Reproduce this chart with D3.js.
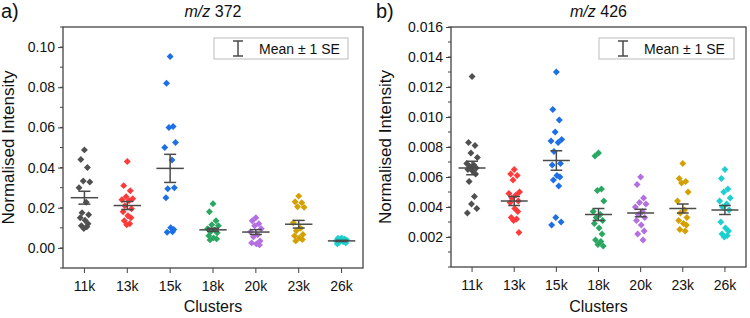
<!DOCTYPE html>
<html>
<head>
<meta charset="utf-8">
<script src="https://cdn.jsdelivr.net/npm/d3@7"></script>
<style>
  body { margin: 0; background: #fff; }
  svg { font-family: "Liberation Sans", Arial, sans-serif; }
</style>
</head>
<body>
<div id="chart"></div>
<script>
// categories and colours
var categories = ["11k", "13k", "15k", "18k", "20k", "23k", "26k"];
var colors = ["#505050", "#ff3a3a", "#1c6fe6", "#2aa862", "#b46fe2", "#d4a000", "#1dcfcf"];

// m/z 372 values
var valsA = [
    [0.0488, 0.0440, 0.0400, 0.0333, 0.0328, 0.0300, 0.0227, 0.0175, 0.0165, 0.0150, 0.0138, 0.0120, 0.0110, 0.0105, 0.0097],
    [0.0430, 0.0310, 0.0285, 0.0255, 0.0245, 0.0240, 0.0235, 0.0210, 0.0195, 0.0180, 0.0160, 0.0150, 0.0135, 0.0120, 0.0115],
    [0.0953, 0.0820, 0.0605, 0.0600, 0.0525, 0.0500, 0.0438, 0.0295, 0.0300, 0.0250, 0.0100, 0.0092, 0.0078, 0.0080],
    [0.0220, 0.0180, 0.0135, 0.0115, 0.0110, 0.0095, 0.0090, 0.0080, 0.0075, 0.0060, 0.0050, 0.0045, 0.0040],
    [0.0150, 0.0135, 0.0120, 0.0110, 0.0095, 0.0080, 0.0065, 0.0055, 0.0035, 0.0025, 0.0020, 0.0015],
    [0.0258, 0.0230, 0.0225, 0.0205, 0.0202, 0.0125, 0.0098, 0.0085, 0.0067, 0.0060, 0.0050, 0.0042, 0.0035],
    [0.0050, 0.0048, 0.0045, 0.0040, 0.0038, 0.0035, 0.0030, 0.0028, 0.0025, 0.0020]
];
var meanA = [0.0250, 0.0211, 0.0396, 0.0090, 0.0079, 0.0118, 0.0035];
var seA = [0.0032, 0.0020, 0.0070, 0.0008, 0.0012, 0.0019, 0.0003];
var ticksA = [0.00, 0.02, 0.04, 0.06, 0.08, 0.10];

// m/z 426 values
var valsB = [
    [0.0127, 0.0083, 0.0081, 0.0076, 0.0073, 0.0069, 0.0068, 0.0067, 0.0066, 0.0065, 0.0064, 0.0062, 0.0057, 0.0047, 0.0042, 0.0039, 0.0036],
    [0.0065, 0.0062, 0.0061, 0.0058, 0.0050, 0.0049, 0.0048, 0.0046, 0.0044, 0.0043, 0.0039, 0.0037, 0.0033, 0.0032, 0.0031, 0.0023],
    [0.0130, 0.0105, 0.0098, 0.0090, 0.0085, 0.0084, 0.0083, 0.0077, 0.0069, 0.0068, 0.0061, 0.0060, 0.0058, 0.0054, 0.0033, 0.0030, 0.0028],
    [0.0076, 0.0074, 0.0052, 0.0051, 0.0044, 0.0037, 0.0035, 0.0033, 0.0031, 0.0029, 0.0026, 0.0022, 0.0018, 0.0017, 0.0015, 0.0014],
    [0.0060, 0.0055, 0.0046, 0.0043, 0.0042, 0.0040, 0.0037, 0.0035, 0.0033, 0.0031, 0.0028, 0.0024, 0.0022, 0.0018],
    [0.0069, 0.0059, 0.0057, 0.0056, 0.0050, 0.0044, 0.0038, 0.0036, 0.0033, 0.0031, 0.0029, 0.0028, 0.0025, 0.0024],
    [0.0065, 0.0059, 0.0052, 0.0050, 0.0046, 0.0044, 0.0042, 0.0040, 0.0038, 0.0030, 0.0026, 0.0024, 0.0022, 0.0021, 0.0020]
];
var meanB = [0.0066, 0.0044, 0.0071, 0.0035, 0.0036, 0.0039, 0.0038];
var seB = [0.00045, 0.0003, 0.00065, 0.0004, 0.00025, 0.0003, 0.0003];
var ticksB = [0.002, 0.004, 0.006, 0.008, 0.010, 0.012, 0.014, 0.016];

// fixed scatter pattern used to spread points sideways
var spread = [0, -0.6, 0.5, -0.2, 0.9, -0.9, 0.3, -0.4, 0.7, -0.7, 0.1, 0.6, -0.5, 0.4, -0.1, 0.8, -0.8];

var svg = d3.select("#chart").append("svg")
    .attr("width", 750)
    .attr("height", 318);

function drawPanel(p) {
    var x = d3.scaleBand().domain(categories).range([p.left, p.right]);
    var y = d3.scaleLinear().domain(p.domain).range([p.bottom, p.top]);
    var step = x.step();
    var cx = function(c) { return x(c) + step / 2; };

    var g = svg.append("g");

    // minor ticks
    var minors = d3.range(p.domain[0], p.domain[1] + 1e-9, p.minor);
    g.selectAll(".minor").data(minors).enter().append("line")
        .attr("x1", p.left - 3).attr("x2", p.left)
        .attr("y1", d => y(d)).attr("y2", d => y(d))
        .attr("stroke", "#444").attr("stroke-width", 1);

    // y axis
    var yAxis = d3.axisLeft(y).tickValues(p.ticks).tickFormat(d3.format(p.fmt)).tickSize(5).tickPadding(3);
    var ya = g.append("g").attr("transform", `translate(${p.left},0)`).call(yAxis);
    ya.select(".domain").remove();
    ya.selectAll("line").attr("stroke", "#444");
    ya.selectAll("text").attr("font-size", "14px").attr("fill", "#111").attr("font-family", "Liberation Sans, Arial");

    // x axis
    var xAxis = d3.axisBottom(x).tickSize(5).tickPadding(8);
    var xa = g.append("g").attr("transform", `translate(0,${p.bottom})`).call(xAxis);
    xa.select(".domain").remove();
    xa.selectAll("line").attr("stroke", "#444");
    xa.selectAll("text").attr("font-size", "14px").attr("fill", "#111").attr("font-family", "Liberation Sans, Arial");

    // frame
    g.append("rect")
        .attr("x", p.left).attr("y", p.top)
        .attr("width", p.right - p.left).attr("height", p.bottom - p.top)
        .attr("fill", "none").attr("stroke", "#444").attr("stroke-width", 1.3);

    // points
    var pts = [];
    p.vals.forEach(function(arr, ci) {
        arr.forEach(function(v, i) {
            pts.push({ c: categories[ci], v: v, color: colors[ci], off: spread[i % spread.length] });
        });
    });
    g.selectAll(".pt").data(pts).enter().append("path")
        .attr("d", d3.symbol().type(d3.symbolSquare).size(24))
        .attr("transform", d => `translate(${cx(d.c) + d.off * step * 0.14},${y(d.v)}) rotate(45)`)
        .attr("fill", d => d.color);

    // mean +- SE
    var bars = categories.map((c, i) => ({ c: c, m: p.mean[i], se: p.se[i] }));
    var bg = g.selectAll(".bar").data(bars).enter().append("g")
        .attr("stroke", "#4a4a4a").attr("stroke-width", 1.5).attr("fill", "none");
    bg.append("line")
        .attr("x1", d => cx(d.c) - step * 0.32).attr("x2", d => cx(d.c) + step * 0.32)
        .attr("y1", d => y(d.m)).attr("y2", d => y(d.m));
    bg.append("line")
        .attr("x1", d => cx(d.c)).attr("x2", d => cx(d.c))
        .attr("y1", d => y(d.m + d.se)).attr("y2", d => y(d.m - d.se));
    bg.append("line")
        .attr("x1", d => cx(d.c) - step * 0.14).attr("x2", d => cx(d.c) + step * 0.14)
        .attr("y1", d => y(d.m + d.se)).attr("y2", d => y(d.m + d.se));
    bg.append("line")
        .attr("x1", d => cx(d.c) - step * 0.14).attr("x2", d => cx(d.c) + step * 0.14)
        .attr("y1", d => y(d.m - d.se)).attr("y2", d => y(d.m - d.se));

    // legend
    var lg = g.append("g").attr("transform", `translate(${p.legX},${p.legY})`);
    lg.append("rect").attr("width", p.legW).attr("height", 21)
        .attr("fill", "#fff").attr("stroke", "#bbb").attr("stroke-width", 1);
    var lb = lg.append("g").attr("stroke", "#4a4a4a").attr("stroke-width", 1.5);
    lb.append("line").attr("x1", 24).attr("x2", 24).attr("y1", 3).attr("y2", 18);
    lb.append("line").attr("x1", 19).attr("x2", 29).attr("y1", 3).attr("y2", 3);
    lb.append("line").attr("x1", 19).attr("x2", 29).attr("y1", 18).attr("y2", 18);
    lg.append("text").attr("x", 45).attr("y", 15.5)
        .attr("font-size", "14px").attr("fill", "#111")
        .text("Mean \u00b1 1 SE");

    // titles
    var mid = (p.left + p.right) / 2;
    var t = g.append("text").attr("x", mid).attr("y", 17).attr("text-anchor", "middle")
        .attr("font-size", "16px").attr("fill", "#111");
    t.append("tspan").attr("font-style", "italic").text("m/z");
    t.append("tspan").text(" " + p.title);

    g.append("text").attr("x", p.labelX).attr("y", 18)
        .attr("font-size", "20px").attr("fill", "#111").text(p.label);

    g.append("text")
        .attr("transform", `translate(${p.yTitleX},${(p.top + p.bottom) / 2}) rotate(-90)`)
        .attr("text-anchor", "middle").attr("font-size", "17px").attr("fill", "#111")
        .text("Normalised Intensity");

    g.append("text").attr("x", mid).attr("y", 312).attr("text-anchor", "middle")
        .attr("font-size", "16px").attr("fill", "#111").text("Clusters");
}

drawPanel({
    left: 63, right: 363, top: 27, bottom: 268,
    domain: [-0.01, 0.11], ticks: ticksA, minor: 0.01, fmt: ".2f",
    vals: valsA, mean: meanA, se: seA,
    title: "372", label: "a)", labelX: 1, yTitleX: 14,
    legX: 214, legY: 38, legW: 134
});

drawPanel({
    left: 451, right: 746, top: 27, bottom: 267,
    domain: [0, 0.016], ticks: ticksB, minor: 0.001, fmt: ".3f",
    vals: valsB, mean: meanB, se: seB,
    title: "426", label: "b)", labelX: 376, yTitleX: 391,
    legX: 599, legY: 38, legW: 135
});
</script>
</body>
</html>
